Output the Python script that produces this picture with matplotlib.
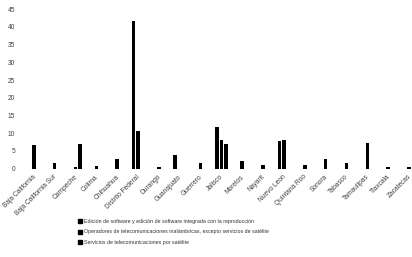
import matplotlib
matplotlib.use("Agg")
import numpy as np
import matplotlib.pyplot as plt
import matplotlib.transforms as mtransforms
from matplotlib.patches import Patch

states = ["Baja California", "Baja California Sur", "Campeche", "Colima", "Chihuahua",
          "Distrito Federal", "Durango", "Guanajuato", "Guerrero", "Jalisco", "Morelos",
          "Nayarit", "Nuevo Leon", "Quintana Roo", "Sonora", "Tabasco", "Tamaulipas",
          "Tlaxcala", "Zacatecas"]

software = [0, 0, 0, 0, 0, 41.8, 0, 3.8, 0, 11.8, 0, 0, 7.8, 0, 0, 0, 0, 0, 0]
inalambricas = [6.6, 1.5, 0.4, 0.8, 2.6, 10.5, 0.4, 0, 1.6, 8.0, 2.1, 0.9, 8.0, 1.0,
                2.7, 1.5, 7.1, 0.5, 0.4]
satelite = [0, 0, 6.9, 0, 0, 0, 0, 0, 0, 6.9, 0, 0, 0, 0, 0, 0, 0, 0, 0]

series_names = ["Edición de software y edición de software integrada con la reproducción",
                "Operadores de telecomunicaciones inalámbricas, excepto servicios de satélite",
                "Servicios de telecomunicaciones por satélite"]

plt.rcParams["font.family"] = ["Liberation Sans", "DejaVu Sans"]

fig = plt.figure(figsize=(4.12, 2.57), dpi=100)
ax = fig.add_axes([23.4 / 412, 0.344, 396 / 412, 0.62])

x = np.arange(len(states))
slot = 0.215
w = 0.17
for off, vals in zip([-slot, 0, slot], [software, inalambricas, satelite]):
    ax.bar(x + off, vals, width=w, color="black")

ax.set_xlim(-0.5, len(states) - 0.5)
ax.set_ylim(0, 45)
ax.set_yticks(np.arange(0, 46, 5))
ax.set_xticks(x)
ax.set_xticklabels(states, rotation=45, ha="right", rotation_mode="anchor")
ax.tick_params(axis="both", length=0, labelsize=4.8, colors="#404040")
ax.tick_params(axis="y", pad=6)
ax.tick_params(axis="x", pad=3.5)
shift = mtransforms.ScaledTranslation(-1.5 / 100, 0, fig.dpi_scale_trans)
for lab in ax.get_xticklabels():
    lab.set_transform(lab.get_transform() + shift)
for s in ax.spines.values():
    s.set_visible(False)

handles = [Patch(color="black") for _ in series_names]
fig.legend(handles, series_names, loc="upper left", bbox_to_anchor=(76 / 412, 1 - 217 / 257),
           frameon=False, fontsize=3.8, handlelength=0.7, handleheight=0.8,
           handletextpad=0.5, labelspacing=1.0, borderaxespad=0, labelcolor="#303030")

fig.savefig("out.png", dpi=100)
